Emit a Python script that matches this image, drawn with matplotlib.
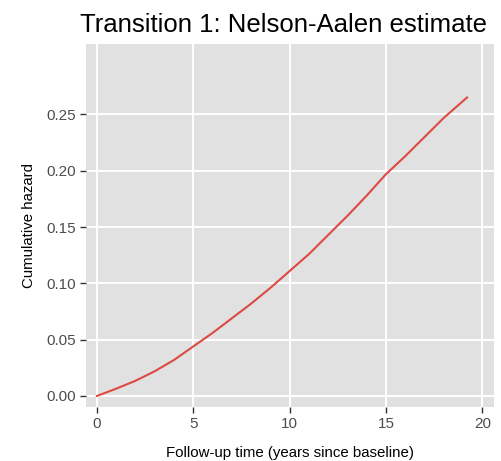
import matplotlib
matplotlib.use("Agg")
import matplotlib.pyplot as plt

# Nelson-Aalen cumulative hazard
years = [0, 1, 2, 3, 4, 5, 6, 7, 8, 9, 10, 11, 12, 13, 14, 15, 16, 17, 18, 19, 19.2]
cumhaz = [0.000, 0.0065, 0.0135, 0.022, 0.032, 0.044, 0.056, 0.069, 0.082, 0.096,
          0.111, 0.126, 0.143, 0.160, 0.178, 0.197, 0.213, 0.230, 0.247, 0.262, 0.265]

x_ticks = [0, 5, 10, 15, 20]
y_ticks = [0.00, 0.05, 0.10, 0.15, 0.20, 0.25]

plt.rcParams['font.family'] = ['Liberation Sans', 'DejaVu Sans']

fig = plt.figure(figsize=(5.01, 4.61), dpi=100)
ax = fig.add_axes([86 / 501, 54 / 461, 408 / 501, 363 / 461])
ax.set_facecolor('#E1E1E1')

ax.plot(years, cumhaz, color='#DC4A43', linewidth=1.5, zorder=3)

ax.set_xlim(-0.57, 20.6)
ax.set_ylim(-0.0098, 0.3125)
ax.set_xticks(x_ticks)
ax.set_yticks(y_ticks)
ax.set_xticklabels([str(t) for t in x_ticks])
ax.set_yticklabels([f"{t:.2f}" for t in y_ticks])

ax.grid(True, color='white', linewidth=1.4)
ax.set_axisbelow(True)
for s in ax.spines.values():
    s.set_visible(False)
ax.tick_params(axis='both', colors='#333333', labelcolor='#4D4D4D',
               labelsize=11, length=4, width=1, pad=3)

ax.set_xlabel('Follow-up time (years since baseline)', fontsize=10.8, labelpad=11)
ax.set_ylabel('Cumulative hazard', fontsize=10.8, labelpad=8)
ax.set_title('Transition 1: Nelson-Aalen estimate', fontsize=18.5, pad=9, x=0.485)

fig.savefig('out.png', dpi=100)
